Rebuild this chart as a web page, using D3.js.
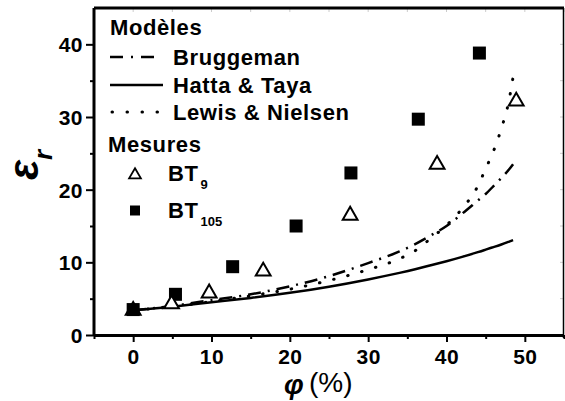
<!DOCTYPE html>
<html><head><meta charset="utf-8">
<script src="https://cdn.jsdelivr.net/npm/d3@7"></script>
<style>
body{margin:0;background:#fff;}
text{font-family:"Liberation Sans",Arial,sans-serif;}
</style></head>
<body><svg id="c" width="565" height="401"></svg>
<script>
// ---- data ----
const phiBT9   = [0, 4.9, 9.7, 16.6, 27.7, 38.8, 48.9];
const epsBT9   = [3.5, 4.4, 5.9, 8.9, 16.6, 23.6, 32.3];
const phiBT105 = [0, 5.4, 12.7, 20.8, 27.8, 36.4, 44.2];
const epsBT105 = [3.5, 5.6, 9.4, 15.0, 22.3, 29.7, 38.8];
const phiModel   = [0, 5, 10, 15, 20, 25, 30, 34, 36, 38, 40, 42, 44, 45, 46, 47, 48, 48.5];
const bruggeman  = [3.4, 4.0, 4.8, 5.6, 6.7, 8.1, 9.9, 11.5, 12.5, 13.7, 15.0, 16.7, 18.5, 19.4, 20.5, 21.6, 22.8, 23.5];
const hattaTaya  = [3.4, 3.9, 4.5, 5.1, 5.8, 6.65, 7.65, 8.55, 9.05, 9.6, 10.15, 10.75, 11.4, 11.75, 12.1, 12.45, 12.85, 13.05];
const lewisNiel  = [3.4, 3.9, 4.6, 5.4, 6.3, 7.5, 9.0, 10.5, 11.6, 13.3, 15.1, 17.4, 20.5, 22.9, 25.3, 28.4, 32.4, 35.5];
const xMajor = [0, 10, 20, 30, 40, 50];
const xMinor = [-5, 5, 15, 25, 35, 45, 55];
const yMajor = [0, 10, 20, 30, 40];
const yMinor = [5, 15, 25, 35];
const legendModels = ["Bruggeman", "Hatta & Taya", "Lewis & Nielsen"];

const svg = d3.select("#c");
const L = 94, R = 564, T = 8, B = 335;
const x = d3.scaleLinear().domain([-5, 55]).range([L, R]);
const y = d3.scaleLinear().domain([0, 45]).range([B, T]);

// faint inner ticks on top & right
const g0 = svg.append("g");
xMinor.concat(xMajor).forEach(v => g0.append("line").attr("x1", x(v)).attr("x2", x(v)).attr("y1", T).attr("y2", T + 4).attr("stroke", "#ccc").attr("stroke-width", 1));
yMinor.concat(yMajor).forEach(v => g0.append("line").attr("x1", R - 4).attr("x2", R).attr("y1", y(v)).attr("y2", y(v)).attr("stroke", "#ccc").attr("stroke-width", 1));

// frame top / right
svg.append("line").attr("x1", L).attr("x2", R).attr("y1", T).attr("y2", T).attr("stroke", "#000").attr("stroke-width", 3);
svg.append("line").attr("x1", R - 0.5).attr("x2", R - 0.5).attr("y1", T).attr("y2", B + 3).attr("stroke", "#000").attr("stroke-width", 1.5);

// axes
const xAx = svg.append("g").attr("transform", `translate(0,${B})`)
  .call(d3.axisBottom(x).tickValues(xMajor).tickSize(7).tickFormat(d3.format("d")));
svg.append("g").attr("transform", `translate(0,${B})`)
  .call(d3.axisBottom(x).tickValues(xMinor).tickSize(4).tickFormat(""))
  .call(g => g.select(".domain").remove());
const yAx = svg.append("g").attr("transform", `translate(${L},0)`)
  .call(d3.axisLeft(y).tickValues(yMajor).tickSize(8).tickFormat(d3.format("d")));
svg.append("g").attr("transform", `translate(${L},0)`)
  .call(d3.axisLeft(y).tickValues(yMinor).tickSize(4).tickFormat(""))
  .call(g => g.select(".domain").remove());
svg.selectAll(".domain").attr("stroke-width", 3).attr("stroke", "#000");
svg.selectAll(".tick line").attr("stroke-width", 2).attr("stroke", "#000");
xAx.selectAll(".tick text").attr("font-size", 21).attr("font-weight", "bold").attr("font-family", "Liberation Sans").attr("dy", "0").attr("y", 29).attr("letter-spacing", 0.5);
yAx.selectAll(".tick text").attr("font-size", 21).attr("font-weight", "bold").attr("font-family", "Liberation Sans").attr("dy", "0.35em").attr("x", -11).attr("letter-spacing", 0.5);
xAx.select(".domain").attr("d", `M${L},0.5H${R}`);
yAx.select(".domain").attr("d", `M0,${T}V${B}`);

// curves
const lineGen = (vals, c) => d3.line().x((d, i) => x(phiModel[i])).y(d => y(d)).curve(c)(vals);
svg.append("path").attr("d", lineGen(hattaTaya, d3.curveNatural)).attr("fill", "none").attr("stroke", "#000").attr("stroke-width", 2.5);
svg.append("path").attr("d", lineGen(bruggeman, d3.curveMonotoneX)).attr("fill", "none").attr("stroke", "#000").attr("stroke-width", 2.5).attr("stroke-dasharray", "13 7 2 7");
svg.append("path").attr("d", lineGen(lewisNiel, d3.curveMonotoneX)).attr("fill", "none").attr("stroke", "#000").attr("stroke-width", 3).attr("stroke-linecap", "round").attr("stroke-dasharray", "0.5 14");

// markers
const tri = d3.symbol().type(d3.symbolTriangle).size(95);
svg.append("g").selectAll("rect").data(phiBT105).join("rect")
  .attr("x", d => x(d) - 6.5).attr("y", (d, i) => y(epsBT105[i]) - 6.5).attr("width", 13).attr("height", 13).attr("fill", "#000");
svg.append("g").selectAll("path").data(phiBT9).join("path")
  .attr("d", tri).attr("transform", (d, i) => `translate(${x(d)},${y(epsBT9[i]) + 1})`)
  .attr("fill", (d, i) => i === 0 ? "#000" : "#fff").attr("stroke", "#000").attr("stroke-width", 2);

// legend
const lg = svg.append("g").attr("font-weight", "bold").attr("font-size", 22).attr("letter-spacing", 0.6);
lg.append("text").attr("x", 110).attr("y", 35).text("Modèles");
const rowsY = [65, 93, 120];
legendModels.forEach((n, i) => lg.append("text").attr("x", 173).attr("y", rowsY[i]).text(n));
lg.append("line").attr("x1", 110).attr("x2", 157).attr("y1", 57).attr("y2", 57).attr("stroke", "#000").attr("stroke-width", 2.5).attr("stroke-dasharray", "13 8 2 8");
lg.append("line").attr("x1", 110).attr("x2", 163).attr("y1", 85).attr("y2", 85).attr("stroke", "#000").attr("stroke-width", 2.5);
lg.append("line").attr("x1", 112).attr("x2", 160).attr("y1", 112).attr("y2", 112).attr("stroke", "#000").attr("stroke-width", 3).attr("stroke-linecap", "round").attr("stroke-dasharray", "0.5 14.5");
lg.append("text").attr("x", 108).attr("y", 152).text("Mesures");
lg.append("path").attr("d", d3.symbol().type(d3.symbolTriangle).size(60)()).attr("transform", "translate(135,175)").attr("fill", "#fff").attr("stroke", "#000").attr("stroke-width", 1.8);
lg.append("rect").attr("x", 130).attr("y", 205.5).attr("width", 10).attr("height", 10).attr("fill", "#000");
const t1 = lg.append("text").attr("x", 168).attr("y", 181);
t1.append("tspan").text("BT");
t1.append("tspan").attr("font-size", 13).attr("dy", 8).attr("dx", 2).attr("letter-spacing", 0).text("9");
const t2 = lg.append("text").attr("x", 168).attr("y", 218);
t2.append("tspan").text("BT");
t2.append("tspan").attr("font-size", 13).attr("dy", 8).attr("dx", 2).attr("letter-spacing", 0).text("105");

// axis titles
const yt = svg.append("text").attr("transform", "translate(38,180) rotate(-90)").attr("font-family", "DejaVu Sans").attr("font-weight", "bold").attr("font-style", "italic");
yt.append("tspan").attr("font-size", 42).text("ε");
yt.append("tspan").attr("font-size", 26).attr("dy", 14).text("r");
svg.append("text").attr("x", 284).attr("y", 394)
  .attr("font-family", "DejaVu Sans").attr("font-weight", "bold").attr("font-style", "italic").attr("font-size", 28).text("φ");
svg.append("text").attr("x", 309).attr("y", 392).attr("font-size", 28).text("(%)");
</script></body></html>
